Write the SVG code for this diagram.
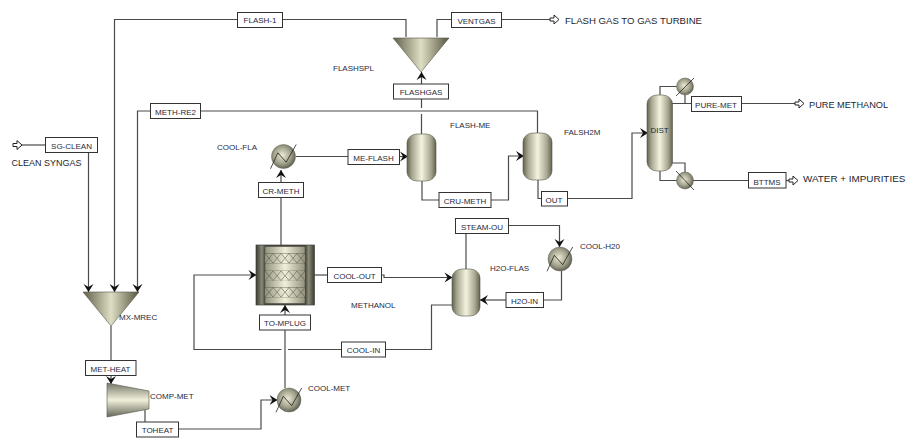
<svg xmlns="http://www.w3.org/2000/svg" xmlns:xlink="http://www.w3.org/1999/xlink" width="906" height="439" viewBox="0 0 906 439">
<style>
text{font-family:"Liberation Sans",Arial,sans-serif;font-size:8px;fill:#1f2a3c}
.t{text-anchor:middle}
.big{font-size:9.6px;fill:#23262e}
.box{fill:#fff;stroke:#333;stroke-width:1}
.c{fill:none;stroke:#4a4a4a;stroke-width:1.2}
.eq{stroke:#55554a;stroke-width:.6}
.th{fill:none;stroke:#222;stroke-width:.8}
</style>
<defs>
<marker id="ar" markerUnits="userSpaceOnUse" markerWidth="12" markerHeight="12" refX="9" refY="6" orient="auto" viewBox="0 0 12 12"><path d="M9 6L1 1L4 6L1 11Z" fill="#111"/></marker>
<linearGradient id="h"><stop offset="0" stop-color="#62624f"/><stop offset=".18" stop-color="#a8a892"/><stop offset=".5" stop-color="#f4f4de"/><stop offset=".82" stop-color="#a8a892"/><stop offset="1" stop-color="#62624f"/></linearGradient>
<linearGradient id="band"><stop offset="0" stop-color="#92927c"/><stop offset=".5" stop-color="#f0f0da"/><stop offset="1" stop-color="#92927c"/></linearGradient>
<linearGradient id="tri"><stop offset="0" stop-color="#5f5f48"/><stop offset=".5" stop-color="#dedec4"/><stop offset="1" stop-color="#55553f"/></linearGradient>
<linearGradient id="vv" x1="0" y1="0" x2="0" y2="1"><stop offset="0" stop-color="#77776a"/><stop offset=".5" stop-color="#f0f0da"/><stop offset="1" stop-color="#66665a"/></linearGradient>
<linearGradient id="rx"><stop offset="0" stop-color="#3a3a30"/><stop offset=".1" stop-color="#8a8a76"/><stop offset=".16" stop-color="#45453a"/><stop offset=".84" stop-color="#45453a"/><stop offset=".9" stop-color="#8a8a76"/><stop offset="1" stop-color="#3a3a30"/></linearGradient>
<radialGradient id="ball" cx=".45" cy=".45" r=".6"><stop offset="0" stop-color="#ecead4"/><stop offset=".6" stop-color="#a0a08a"/><stop offset="1" stop-color="#54544a"/></radialGradient>
<g id="heater"><circle r="12" fill="url(#ball)" stroke="#66665a" stroke-width=".5"/><path class="th" d="M-13 12.3L-5.7-3.7L2.7 5.7L12.7-12"/></g>
<polygon id="hollow" points="0,-1.5 4,-1.5 4,-4.5 9,0 4,4.5 4,1.5 0,1.500" fill="#fff" stroke="#222" stroke-width="1"/>
<g id="bed"><rect width="40" height="9.500" fill="url(#band)"/><path d="M0 0L8 9.500M8 0L16 9.500M16 0L24 9.500M24 0L32 9.500M32 0L40 9.500M8 0L0 9.500M16 0L8 9.500M24 0L16 9.500M32 0L24 9.500M40 0L32 9.500" fill="none" stroke="#4a4a40" stroke-width=".5"/></g>
</defs>
<rect width="906" height="439" fill="#fff"/>
<g id="connectors">
<path class="c" d="M22 145H46"/>
<path class="c" d="M88.500 152V292" marker-end="url(#ar)"/>
<path class="c" d="M406 37V19.500H282"/>
<path class="c" d="M238 19.500H114.500V292" marker-end="url(#ar)"/>
<path class="c" d="M537.500 133V111H200"/>
<path class="c" d="M151 111H137.500V292" marker-end="url(#ar)"/>
<path class="c" d="M421.500 134V114M421.500 108V99"/>
<path class="c" d="M421.500 84V72" marker-end="url(#ar)"/>
<path class="c" d="M437 37V19.500H452"/>
<path class="c" d="M501 19.500H550"/>
<path class="c" d="M281 245V198"/>
<path class="c" d="M281 182V170" marker-end="url(#ar)"/>
<path class="c" d="M296 156.500H348"/>
<path class="c" d="M399 156.500H408" marker-end="url(#ar)"/>
<path class="c" d="M422 181V200H439"/>
<path class="c" d="M491 200H508.500V156H524" marker-end="url(#ar)"/>
<path class="c" d="M538 180V198.500H542"/>
<path class="c" d="M567 198.500H632V133H648" marker-end="url(#ar)"/>
<path class="c" d="M660 95V86.500H677"/>
<path class="c" d="M672 103.500H692M685 95V103.500"/>
<path class="c" d="M741 103.500H795"/>
<path class="c" d="M672 163H685V172"/>
<path class="c" d="M660 171V180.500H677"/>
<path class="c" d="M693 180.500H749"/>
<path class="c" d="M786 180.500H790"/>
<path class="c" d="M314 275H327"/>
<path class="c" d="M381 275H384V277.500H452.500" marker-end="url(#ar)"/>
<path class="c" d="M452 305H431.500V349.500H385"/>
<path class="c" d="M342 349.500H288M281.500 349.500H194V275H256.500" marker-end="url(#ar)"/>
<path class="c" d="M285 388V330"/>
<path class="c" d="M285 315V305" marker-end="url(#ar)"/>
<path class="c" d="M178 429H261V400H277.500" marker-end="url(#ar)"/>
<path class="c" d="M111 326V361"/>
<path class="c" d="M111 375V384" marker-end="url(#ar)"/>
<path class="c" d="M145 408V422"/>
<path class="c" d="M466 269V233"/>
<path class="c" d="M508 225.500H559.500V247" marker-end="url(#ar)"/>
<path class="c" d="M561.500 271V300H543"/>
<path class="c" d="M507 300H480" marker-end="url(#ar)"/>
</g>
<use xlink:href="#hollow" href="#hollow" x="13" y="145"/>
<use xlink:href="#hollow" href="#hollow" x="550" y="19.500"/>
<use xlink:href="#hollow" href="#hollow" x="795" y="103.500"/>
<use xlink:href="#hollow" href="#hollow" x="789" y="180.500"/>
<g id="FLASHSPL"><polygon class="eq" points="393,38 449,38 421,72" fill="url(#tri)"/><text x="333" y="71">FLASHSPL</text></g>
<g id="MX-MREC"><polygon class="eq" points="83,292 139,292 111,326" fill="url(#tri)"/><text x="119" y="320">MX-MREC</text></g>
<g id="FLASH-ME"><rect class="eq" x="407" y="134" width="29" height="47" rx="10" ry="9" fill="url(#h)"/><text x="450" y="128">FLASH-ME</text></g>
<g id="FALSH2M"><rect class="eq" x="523" y="133" width="29" height="47" rx="10" ry="9" fill="url(#h)"/><text x="564" y="135">FALSH2M</text></g>
<g id="H2O-FLAS"><rect class="eq" x="452" y="269" width="28" height="47" rx="10" ry="9" fill="url(#h)"/><text x="490" y="271">H2O-FLAS</text></g>
<g id="DIST"><rect class="eq" x="647" y="95" width="25.500" height="76" rx="10" ry="9" fill="url(#h)"/><text class="t" x="659.500" y="133">DIST</text></g>
<g id="COND"><circle cx="685" cy="86.500" r="8.500" fill="url(#ball)" stroke="#66665a" stroke-width=".5"/><path class="th" d="M676 96L694 78"/></g>
<g id="REB"><circle cx="685" cy="180.500" r="8.500" fill="url(#ball)" stroke="#66665a" stroke-width=".5"/><path class="th" d="M676 171L694 190"/></g>
<g id="COOL-FLA"><use xlink:href="#heater" href="#heater" x="283.500" y="156.500"/><text x="217" y="150">COOL-FLA</text></g>
<g id="COOL-MET"><use xlink:href="#heater" href="#heater" x="289" y="400"/><text x="308" y="391">COOL-MET</text></g>
<g id="COOL-H20"><use xlink:href="#heater" href="#heater" x="560" y="259"/><text x="580" y="249">COOL-H20</text></g>
<g id="COMP-MET"><polygon class="eq" points="107,383 149,391 149,409 107,417" fill="url(#vv)"/><text x="150" y="399">COMP-MET</text></g>
<g id="METHANOL">
<rect x="256" y="245" width="58.500" height="60" fill="url(#rx)" stroke="#444" stroke-width=".7"/>
<rect x="265" y="246" width="40" height="58" fill="#3f3f35"/>
<g fill="url(#band)" stroke="#444" stroke-width=".5"><rect x="265" y="246.500" width="40" height="7" rx="1"/><rect x="265" y="263" width="40" height="8" rx="1"/><rect x="265" y="280" width="40" height="7.500" rx="1"/><rect x="265" y="297" width="40" height="6.500" rx="1"/></g>
<use xlink:href="#bed" href="#bed" x="265" y="253.500"/><use xlink:href="#bed" href="#bed" x="265" y="271"/><use xlink:href="#bed" href="#bed" x="265" y="287.500"/>
<text x="351" y="308">METHANOL</text>
</g>
<g id="s-FLASH-1"><rect class="box" x="237.500" y="12.500" width="45" height="15"/><text class="t" x="260" y="23">FLASH-1</text></g>
<g id="s-METH-RE2"><rect class="box" x="150.500" y="103.500" width="50" height="15"/><text class="t" x="175.500" y="114.500">METH-RE2</text></g>
<g id="s-SG-CLEAN"><rect class="box" x="45.500" y="137.500" width="52" height="15"/><text class="t" x="71.500" y="148.500">SG-CLEAN</text></g>
<g id="s-CR-METH"><rect class="box" x="258.500" y="182.500" width="45" height="15"/><text class="t" x="281" y="193.500">CR-METH</text></g>
<g id="s-VENTGAS"><rect class="box" x="451.500" y="12.500" width="50" height="15"/><text class="t" x="476.500" y="23.500">VENTGAS</text></g>
<g id="s-FLASHGAS"><rect class="box" x="393.500" y="84" width="55" height="15"/><text class="t" x="421" y="95">FLASHGAS</text></g>
<g id="s-ME-FLASH"><rect class="box" x="348" y="149.500" width="51.500" height="15"/><text class="t" x="373.500" y="160.500">ME-FLASH</text></g>
<g id="s-CRU-METH"><rect class="box" x="439" y="192.500" width="52" height="15"/><text class="t" x="465" y="204">CRU-METH</text></g>
<g id="s-OUT"><rect class="box" x="541.500" y="191.500" width="26" height="14.500"/><text class="t" x="554" y="202.500">OUT</text></g>
<g id="s-PURE-MET"><rect class="box" x="691.500" y="96.500" width="50" height="15"/><text class="t" x="716" y="107.500">PURE-MET</text></g>
<g id="s-BTTMS"><rect class="box" x="748.500" y="172.500" width="37.500" height="15.500"/><text class="t" x="767" y="184.500">BTTMS</text></g>
<g id="s-STEAM-OU"><rect class="box" x="455.500" y="218.500" width="53" height="15"/><text class="t" x="482" y="229.500">STEAM-OU</text></g>
<g id="s-COOL-OUT"><rect class="box" x="327.500" y="267.500" width="54" height="15"/><text class="t" x="354.500" y="279">COOL-OUT</text></g>
<g id="s-H2O-IN"><rect class="box" x="506" y="292.500" width="37.500" height="15"/><text class="t" x="524.500" y="304">H2O-IN</text></g>
<g id="s-COOL-IN"><rect class="box" x="341.500" y="342" width="44" height="15"/><text class="t" x="363.500" y="353">COOL-IN</text></g>
<g id="s-TO-MPLUG"><rect class="box" x="259.500" y="315" width="51" height="15"/><text class="t" x="285" y="326">TO-MPLUG</text></g>
<g id="s-MET-HEAT"><rect class="box" x="85.500" y="360.500" width="50.500" height="15"/><text class="t" x="110.500" y="371.500">MET-HEAT</text></g>
<g id="s-TOHEAT"><rect class="box" x="136.500" y="422" width="42" height="15"/><text class="t" x="157.500" y="433">TOHEAT</text></g>
<g id="labels">
<text class="big" style="font-size:9px" x="11.500" y="166">CLEAN SYNGAS</text>
<text class="big" x="565" y="24">FLASH GAS TO GAS TURBINE</text>
<text class="big" style="font-size:9.200px" x="809" y="108">PURE METHANOL</text>
<text class="big" style="font-size:9.900px" x="803" y="182">WATER + IMPURITIES</text>
</g>
</svg>
